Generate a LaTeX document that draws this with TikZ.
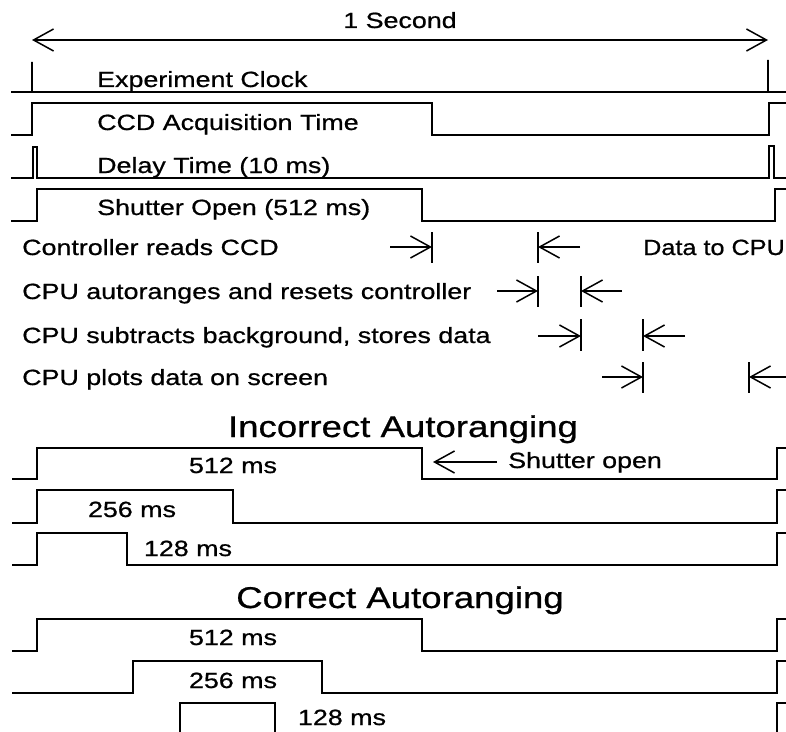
\documentclass[tikz,border=0pt]{standalone}
\usepackage{fontspec}
\setmainfont{Liberation Sans}[FakeStretch=1.22,FakeBold=0.7]
\usetikzlibrary{arrows.meta}
\newcommand{\lblfont}{\fontsize{22bp}{26bp}\selectfont}
\newcommand{\ttlfont}{\fontsize{30bp}{34bp}\selectfont}
\begin{document}
\begin{tikzpicture}[x=1bp,y=-1bp,
  wave/.style={line width=1.6bp, line join=miter},
  bar/.style={line width=1.6bp},
  ar/.style={line width=1.5bp, -{Straight Barb[length=20bp,width=22bp]}},
  lbl/.style={anchor=base west, inner sep=0pt, font=\lblfont},
  clbl/.style={anchor=base, inner sep=0pt, font=\lblfont},
  ttl/.style={anchor=base, inner sep=0pt, font=\ttlfont}]
\useasboundingbox[fill=white] (0,0) rectangle (786,732);

% one-second span
\node[clbl] (sec) at (400,28) {1 Second};
\coordinate (secL) at (32,40);
\coordinate (secR) at (768,40);
\draw[ar, {Straight Barb[length=20bp,width=22bp]}-{Straight Barb[length=20bp,width=22bp]}] (secL) -- (secR);

% experiment clock
\draw[wave] (11,92) -- (32,92) -- (32,62) -- (32,92) -- (768,92) -- (768,60) -- (768,92) -- (786,92);
\node[lbl] (clk) at (97,87) {Experiment Clock};

% CCD acquisition time
\draw[wave] (11,135) -- (32,135) -- (32,103) -- (432,103) -- (432,135) -- (769,135) -- (769,103) -- (786,103);
\node[lbl] (acq) at (97,130) {CCD Acquisition Time};

% delay time
\draw[wave] (11,178) -- (33,178) -- (33,147) -- (37,147) -- (37,178) -- (769,178) -- (769,146) -- (774,146) -- (774,178) -- (786,178);
\node[lbl] (dly) at (97,173) {Delay Time (10 ms)};

% shutter open
\draw[wave] (11,221) -- (37,221) -- (37,189) -- (422,189) -- (422,221) -- (775,221) -- (775,189) -- (786,189);
\node[lbl] (shut) at (97,215) {Shutter Open (512 ms)};

% processing steps
\node[lbl] (rd) at (22,255) {Controller reads CCD};
\node[lbl] (ar1) at (22,299) {CPU autoranges and resets controller};
\node[lbl] (sb) at (22,343) {CPU subtracts background, stores data};
\node[lbl] (pl) at (22,385) {CPU plots data on screen};
\node[lbl, anchor=base east] (dcpu) at (785,255) {\scalebox{0.94}[1]{Data to CPU}};

% step markers
\draw[bar] (432,232) -- (432,263);
\draw[bar] (538,232) -- (538,263);
\coordinate (a1s) at (390,247); \coordinate (a1e) at (432,247);
\coordinate (b1s) at (580,247); \coordinate (b1e) at (538,247);
\draw[ar] (a1s) -- (a1e);
\draw[ar] (b1s) -- (b1e);

\draw[bar] (538,276) -- (538,307);
\draw[bar] (581,276) -- (581,307);
\coordinate (a2s) at (497,291); \coordinate (a2e) at (538,291);
\coordinate (b2s) at (622,291); \coordinate (b2e) at (581,291);
\draw[ar] (a2s) -- (a2e);
\draw[ar] (b2s) -- (b2e);

\draw[bar] (581,319) -- (581,351);
\draw[bar] (643,319) -- (643,351);
\coordinate (a3s) at (538,336); \coordinate (a3e) at (581,336);
\coordinate (b3s) at (685,336); \coordinate (b3e) at (643,336);
\draw[ar] (a3s) -- (a3e);
\draw[ar] (b3s) -- (b3e);

\draw[bar] (643,362) -- (643,393);
\draw[bar] (749,362) -- (749,393);
\coordinate (a4s) at (602,377); \coordinate (a4e) at (643,377);
\coordinate (b4s) at (786,377); \coordinate (b4e) at (749,377);
\draw[ar] (a4s) -- (a4e);
\draw[ar] (b4s) -- (b4e);

% incorrect autoranging
\node[ttl] (inc) at (403,437) {Incorrect Autoranging};
\draw[wave] (12,479) -- (37,479) -- (37,448) -- (422,448) -- (422,479) -- (777,479) -- (777,448) -- (786,448);
\node[clbl] (i512) at (233,473) {512 ms};
\coordinate (soE) at (433,462); \coordinate (soS) at (497,462);
\draw[ar] (soS) -- (soE);
\node[lbl] (so) at (508,468) {Shutter open};
\draw[wave] (12,523) -- (37,523) -- (37,490) -- (233,490) -- (233,523) -- (777,523) -- (777,490) -- (786,490);
\node[clbl] (i256) at (132,517) {256 ms};
\draw[wave] (12,565) -- (37,565) -- (37,533) -- (127,533) -- (127,565) -- (777,565) -- (777,533) -- (786,533);
\node[clbl] (i128) at (188,556) {128 ms};

% correct autoranging
\node[ttl] (cor) at (400,608) {Correct Autoranging};
\draw[wave] (12,651) -- (37,651) -- (37,619) -- (422,619) -- (422,651) -- (777,651) -- (777,619) -- (786,619);
\node[clbl] (c512) at (233,645) {512 ms};
\draw[wave] (12,693) -- (133,693) -- (133,661) -- (322,661) -- (322,693) -- (777,693) -- (777,661) -- (786,661);
\node[clbl] (c256) at (233,688) {256 ms};
\draw[wave] (180,733) -- (180,703) -- (275,703) -- (275,733);
\draw[wave] (777,733) -- (777,703) -- (786,703);
\node[clbl] (c128) at (342,725) {128 ms};
\end{tikzpicture}
\end{document}
